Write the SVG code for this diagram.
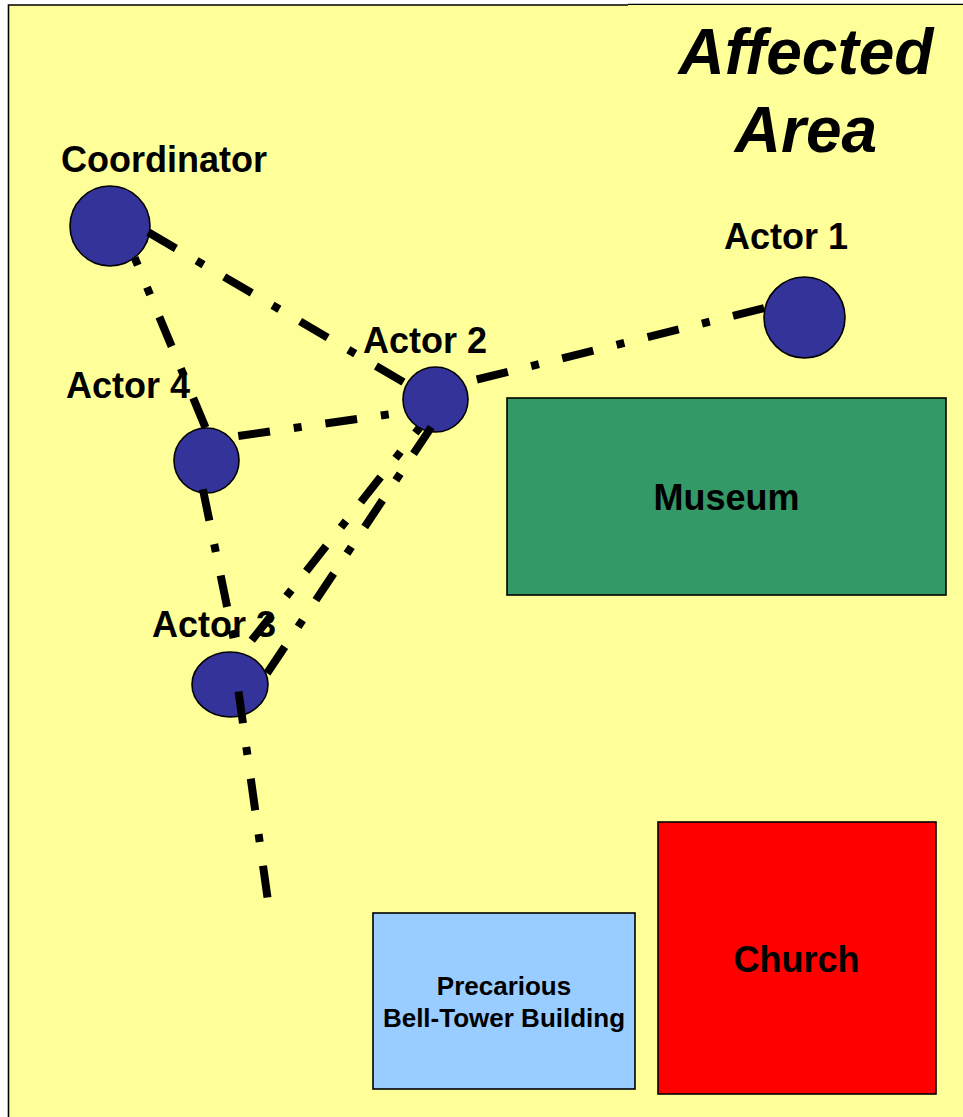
<svg xmlns="http://www.w3.org/2000/svg" width="963" height="1117" viewBox="0 0 963 1117">
  <style>
    .lbl { font-family: "Liberation Sans", Arial, sans-serif; font-weight: bold; font-size: 36px; fill: #000; }
    .small { font-size: 26px; }
    .title { font-family: "Liberation Sans", Arial, sans-serif; font-weight: bold; font-style: italic; font-size: 64px; fill: #000; text-anchor: middle; }
    .actor { fill: #333399; stroke: #000; stroke-width: 1.6; }
    .bldg { stroke: #000; stroke-width: 1.6; }
    .link { fill: none; stroke: #000; stroke-width: 8; stroke-linecap: butt; stroke-dasharray: 32 24 8 24; }
  </style>

  <!-- area background -->
  <g id="area">
    <rect x="8" y="5" width="960" height="1120" fill="#FFFF99"/>
    <path d="M8.5 1117 V5 H628" fill="none" stroke="#000" stroke-width="1.6"/>
    <path d="M628 4.3 H963" fill="none" stroke="#000" stroke-width="1.2"/>
    <text class="title" x="806" y="74">Affected</text>
    <text class="title" x="806" y="152">Area</text>
  </g>

  <!-- buildings -->
  <g id="museum">
    <rect class="bldg" x="507" y="398" width="439" height="197" fill="#339966"/>
    <text class="lbl" x="726.5" y="510" text-anchor="middle">Museum</text>
  </g>
  <g id="bell-tower">
    <rect class="bldg" x="373" y="913" width="262" height="176" fill="#99CCFF" stroke-width="2"/>
    <text class="lbl small" x="504" y="995" text-anchor="middle">Precarious</text>
    <text class="lbl small" x="504" y="1027" text-anchor="middle">Bell-Tower Building</text>
  </g>
  <g id="church">
    <rect class="bldg" x="658" y="822" width="278" height="272" fill="#FF0000"/>
    <text class="lbl" x="796.5" y="972" text-anchor="middle">Church</text>
  </g>

  <!-- actors -->
  <g id="coordinator">
    <circle class="actor" cx="110" cy="226" r="40"/>
    <text class="lbl" x="61" y="172">Coordinator</text>
  </g>
  <g id="actor1">
    <circle class="actor" cx="804.5" cy="317.5" r="40.5"/>
    <text class="lbl" x="724" y="249">Actor 1</text>
  </g>
  <g id="actor2">
    <circle class="actor" cx="435.5" cy="399.5" r="32.5"/>
    <text class="lbl" x="363" y="353">Actor 2</text>
  </g>
  <g id="actor4">
    <circle class="actor" cx="206.5" cy="460.5" r="32.5"/>
    <text class="lbl" x="66" y="398">Actor 4</text>
  </g>
  <g id="actor3">
    <ellipse class="actor" cx="230" cy="684.5" rx="38" ry="32.5"/>
    <text class="lbl" x="152" y="637">Actor 3</text>
  </g>

  <!-- communication links (dash-dot) -->
  <g id="links">
    <path class="link" d="M148.3 232.3 L403.5 382.1"/>
    <path class="link" d="M134.6 257.6 L205.5 427.6" stroke-dashoffset="23.8"/>
    <path class="link" d="M476.8 379.5 L764.1 308.2"/>
    <path class="link" d="M238.3 436 L392.7 413.8"/>
    <path class="link" d="M419.5 427.8 L251.7 640.3" stroke-dashoffset="25.3"/>
    <path class="link" d="M431.3 427.1 L267 673.4"/>
    <path class="link" d="M202.9 489.3 L237.6 657.7"/>
    <path class="link" d="M238.5 691.5 L267.5 897.5"/>
  </g>
</svg>
